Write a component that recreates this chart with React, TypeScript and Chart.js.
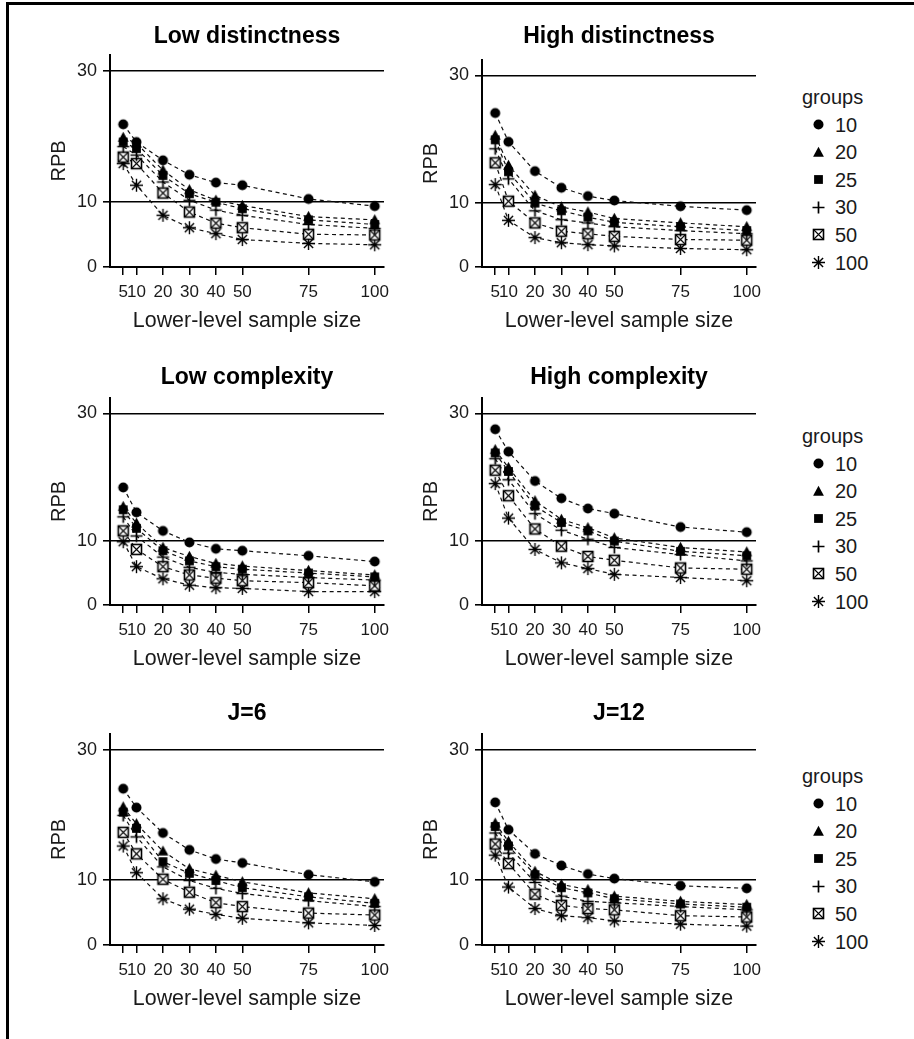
import React, { useEffect, useMemo, useRef } from "react";
import { Chart, registerables } from "chart.js";

Chart.register(...registerables);

// ---------- data ----------
const sampleSizes = [5, 10, 20, 30, 40, 50, 75, 100];
const groupLabels = ["10", "20", "25", "30", "50", "100"];
const yTickValues = [0, 10, 30];
const xAxisTitle = "Lower-level sample size";
const yAxisTitle = "RPB";
const legendTitle = "groups";

// rows: groups 10, 20, 25, 30, 50, 100 ; columns: sample sizes
const lowDistinctness = [
  [21.8, 19.1, 16.3, 14.1, 12.9, 12.5, 10.4, 9.3],
  [19.8, 18.9, 14.8, 11.8, 10.2, 9.4, 7.7, 7.2],
  [19.1, 18.1, 14.0, 11.2, 9.9, 8.9, 7.2, 6.5],
  [18.4, 17.1, 13.0, 10.2, 8.7, 7.9, 6.5, 5.9],
  [16.8, 15.8, 11.3, 8.4, 6.7, 6.0, 5.0, 4.9],
  [15.8, 12.5, 7.9, 6.0, 5.1, 4.2, 3.6, 3.4],
];
const highDistinctness = [
  [24.1, 19.6, 15.0, 12.4, 11.1, 10.4, 9.5, 8.9],
  [20.6, 15.9, 11.2, 9.4, 8.6, 7.6, 6.9, 6.3],
  [19.9, 14.9, 10.0, 8.8, 7.8, 7.0, 6.3, 5.7],
  [18.5, 13.8, 8.8, 7.4, 6.9, 6.3, 5.7, 5.2],
  [16.3, 10.3, 6.9, 5.6, 5.2, 4.8, 4.3, 4.2],
  [12.9, 7.3, 4.6, 3.8, 3.5, 3.3, 2.9, 2.7],
];
const lowComplexity = [
  [18.4, 14.5, 11.6, 9.8, 8.8, 8.5, 7.7, 6.8],
  [15.4, 12.8, 9.0, 7.6, 6.5, 6.1, 5.4, 4.7],
  [14.9, 12.0, 8.5, 6.9, 6.0, 5.6, 5.0, 4.4],
  [13.8, 10.8, 7.5, 5.9, 5.1, 4.8, 4.3, 3.9],
  [11.6, 8.7, 6.0, 4.7, 4.2, 3.8, 3.5, 3.0],
  [9.9, 6.0, 4.1, 3.1, 2.7, 2.6, 2.1, 2.1],
];
const highComplexity = [
  [27.5, 24.0, 19.4, 16.7, 15.1, 14.3, 12.2, 11.4],
  [24.3, 21.5, 16.3, 13.4, 12.1, 10.5, 9.0, 8.3],
  [23.8, 20.9, 15.5, 12.9, 11.6, 10.0, 8.4, 7.7],
  [22.9, 19.6, 14.3, 11.7, 10.3, 9.0, 7.9, 6.9],
  [21.1, 17.1, 11.9, 9.2, 7.6, 7.0, 5.8, 5.6],
  [19.0, 13.6, 8.7, 6.6, 5.7, 4.8, 4.3, 3.8],
];
const j6 = [
  [24.0, 21.1, 17.2, 14.6, 13.2, 12.6, 10.8, 9.7],
  [21.2, 18.6, 14.4, 11.7, 10.7, 9.7, 8.0, 7.1],
  [20.4, 17.9, 12.8, 11.0, 9.9, 8.8, 7.4, 6.4],
  [19.9, 16.6, 12.0, 9.9, 8.7, 7.9, 6.8, 5.9],
  [17.3, 14.0, 10.1, 8.1, 6.5, 5.9, 4.9, 4.6],
  [15.2, 11.1, 7.1, 5.5, 4.7, 4.1, 3.4, 3.0],
];
const j12 = [
  [21.9, 17.7, 14.0, 12.2, 10.9, 10.2, 9.1, 8.7],
  [18.7, 15.9, 11.3, 9.3, 8.5, 7.5, 6.7, 6.2],
  [18.2, 15.2, 10.8, 8.8, 8.0, 7.1, 6.3, 5.8],
  [17.2, 14.1, 9.6, 7.5, 6.7, 6.5, 5.9, 5.4],
  [15.5, 12.5, 7.8, 6.1, 5.6, 5.4, 4.5, 4.3],
  [13.8, 8.9, 5.6, 4.5, 4.2, 3.7, 3.2, 2.9],
];

const panelTitles = [
  "Low distinctness",
  "High distinctness",
  "Low complexity",
  "High complexity",
  "J=6",
  "J=12",
];
const panelData = [lowDistinctness, highDistinctness, lowComplexity, highComplexity, j6, j12];

// ---------- layout ----------
const FONT = "'Liberation Sans', Arial, Helvetica, sans-serif";
const X_MAX = 103.5;
const Y_MAX = 32.4;
const X_SCALE_H = 67;
const PAD_RIGHT = 16;
const colLeft = [28, 398]; // canvas left
const colAxis = [110, 482]; // y-axis pixel x
const PLOT_W = 274;
const rowTitleY = [35, 376, 712];
const rowTop = [
  [55, 60],
  [398, 398],
  [734, 734],
];
const rowZero = [267, 605, 945];
const rowOffset = [0, 339, 679];

function makeMarker(kind: number): HTMLCanvasElement {
  const s = 17;
  const c = document.createElement("canvas");
  c.width = s;
  c.height = s;
  const g = c.getContext("2d")!;
  const m = s / 2;
  g.fillStyle = "#000";
  g.strokeStyle = "#000";
  g.lineCap = "butt";
  if (kind === 0) {
    g.beginPath();
    g.arc(m, m, 5, 0, Math.PI * 2);
    g.fill();
  } else if (kind === 1) {
    g.beginPath();
    g.moveTo(m, m - 5.8);
    g.lineTo(m + 5.4, m + 4.3);
    g.lineTo(m - 5.4, m + 4.3);
    g.closePath();
    g.fill();
  } else if (kind === 2) {
    g.fillRect(m - 4.4, m - 4.4, 8.8, 8.8);
  } else if (kind === 3) {
    g.lineWidth = 1.7;
    g.beginPath();
    g.moveTo(m - 6, m);
    g.lineTo(m + 6, m);
    g.moveTo(m, m - 6);
    g.lineTo(m, m + 6);
    g.stroke();
  } else if (kind === 4) {
    g.fillStyle = "#fff";
    g.fillRect(m - 5, m - 5, 10, 10);
    g.lineWidth = 1.6;
    g.strokeRect(m - 5, m - 5, 10, 10);
    g.lineWidth = 1.1;
    g.beginPath();
    g.moveTo(m - 5, m - 5);
    g.lineTo(m + 5, m + 5);
    g.moveTo(m + 5, m - 5);
    g.lineTo(m - 5, m + 5);
    g.stroke();
  } else {
    g.lineWidth = 1.4;
    g.beginPath();
    const r = 6.5;
    for (let a = 0; a < 4; a++) {
      const t = (a * Math.PI) / 4;
      g.moveTo(m - r * Math.cos(t), m - r * Math.sin(t));
      g.lineTo(m + r * Math.cos(t), m + r * Math.sin(t));
    }
    g.stroke();
  }
  return c;
}

type PanelProps = { index: number; markers: HTMLCanvasElement[] };

function Panel({ index, markers }: PanelProps) {
  const ref = useRef<HTMLCanvasElement>(null);
  const col = index % 2;
  const row = Math.floor(index / 2);
  const cx = colLeft[col];
  const yWidth = colAxis[col] - cx;
  const titleY = rowTitleY[row];
  const cy = titleY - 22;
  const top = rowTop[row][col];
  const zero = rowZero[row];
  const w = colAxis[col] + PLOT_W + PAD_RIGHT - cx;
  const h = zero + X_SCALE_H - cy;
  const centerX = colAxis[col] + PLOT_W / 2;

  useEffect(() => {
    const series = panelData[index];
    const chart = new Chart(ref.current!, {
      type: "scatter",
      data: {
        datasets: series.map((vals, gi) => ({
          label: groupLabels[gi],
          data: sampleSizes.map((x, i) => ({ x, y: vals[i] })),
          showLine: true,
          borderColor: "#111",
          borderWidth: 1.2,
          borderDash: [4, 3.5],
          pointStyle: markers[gi] as any,
          pointRadius: 5,
          pointHoverRadius: 5,
          tension: 0,
          fill: false,
        })),
      },
      options: {
        animation: false,
        responsive: false,
        devicePixelRatio: 1,
        events: [],
        layout: { padding: { left: 0, right: PAD_RIGHT, top: top - cy, bottom: 0 } },
        plugins: {
          legend: { display: false },
          tooltip: { enabled: false },
          title: { display: false },
        },
        scales: {
          x: {
            type: "linear",
            min: 0,
            max: X_MAX,
            afterBuildTicks: (s: any) => {
              s.ticks = sampleSizes.map((v) => ({ value: v }));
            },
            afterFit: (s: any) => {
              s.height = X_SCALE_H;
            },
            grid: {
              drawOnChartArea: false,
              drawTicks: true,
              tickLength: 8,
              color: "#000",
              lineWidth: 1.5,
            },
            border: { display: true, color: "#000", width: 2 },
            ticks: {
              color: "#1a1a1a",
              font: { family: FONT, size: 17 },
              padding: 7,
              maxRotation: 0,
              minRotation: 0,
              autoSkip: false,
              callback: (v: any) => String(v),
            },
            title: {
              display: true,
              text: xAxisTitle,
              color: "#1a1a1a",
              font: { family: FONT, size: 21.4 },
              padding: 0,
            },
          },
          y: {
            type: "linear",
            min: 0,
            max: Y_MAX,
            afterBuildTicks: (s: any) => {
              s.ticks = yTickValues.map((v) => ({ value: v }));
            },
            afterFit: (s: any) => {
              s.width = yWidth;
            },
            grid: {
              drawOnChartArea: true,
              drawTicks: true,
              tickLength: 7,
              color: "#000",
              lineWidth: 1.6,
            },
            border: { display: true, color: "#000", width: 2 },
            ticks: {
              color: "#1a1a1a",
              font: { family: FONT, size: 18 },
              padding: 6,
              callback: (v: any) => String(v),
            },
            title: {
              display: true,
              text: yAxisTitle,
              color: "#1a1a1a",
              font: { family: FONT, size: 20 },
              padding: { top: col === 0 ? 19 : 21, bottom: 0 },
            },
          },
        },
      } as any,
    });
    return () => chart.destroy();
  }, [index, markers]);

  return (
    <>
      <canvas
        ref={ref}
        width={w}
        height={h}
        style={{ position: "absolute", left: cx, top: cy, width: w, height: h }}
      />
      <div
        style={{
          position: "absolute",
          left: centerX - 200,
          width: 400,
          top: titleY - 14,
          height: 28,
          lineHeight: "28px",
          textAlign: "center",
          fontFamily: FONT,
          fontWeight: "bold",
          fontSize: 23,
          color: "#000",
          whiteSpace: "nowrap",
        }}
      >
        {panelTitles[index]}
      </div>
    </>
  );
}

function Legend({ row, markerUrls }: { row: number; markerUrls: string[] }) {
  const off = rowOffset[row];
  const items = groupLabels.map((g, i) => {
    const c = 124.5 + 27.6 * i + off;
    return (
      <React.Fragment key={g}>
        <img
          src={markerUrls[i]}
          width={17}
          height={17}
          style={{ position: "absolute", left: 818 - 8.5, top: c - 8.5 }}
          alt=""
        />
        <div
          style={{
            position: "absolute",
            left: 835,
            top: c - 12,
            height: 24,
            lineHeight: "24px",
            fontFamily: FONT,
            fontSize: 20,
            color: "#1a1a1a",
            whiteSpace: "nowrap",
          }}
        >
          {g}
        </div>
      </React.Fragment>
    );
  });
  return (
    <>
      <div
        style={{
          position: "absolute",
          left: 802,
          top: 97 + off - 12,
          height: 24,
          lineHeight: "24px",
          fontFamily: FONT,
          fontSize: 20,
          color: "#1a1a1a",
          whiteSpace: "nowrap",
        }}
      >
        {legendTitle}
      </div>
      {items}
    </>
  );
}

export default function App() {
  const markers = useMemo(() => groupLabels.map((_, i) => makeMarker(i)), []);
  const markerUrls = useMemo(() => markers.map((m) => m.toDataURL()), [markers]);
  return (
    <div>
      <div
        style={{
          position: "absolute",
          left: 6,
          top: 2,
          width: 908,
          height: 1037,
          borderTop: "3px solid #000",
          borderLeft: "3px solid #000",
          boxSizing: "border-box",
        }}
      />
      {panelTitles.map((_, i) => (
        <Panel key={i} index={i} markers={markers} />
      ))}
      {[0, 1, 2].map((r) => (
        <Legend key={r} row={r} markerUrls={markerUrls} />
      ))}
    </div>
  );
}
